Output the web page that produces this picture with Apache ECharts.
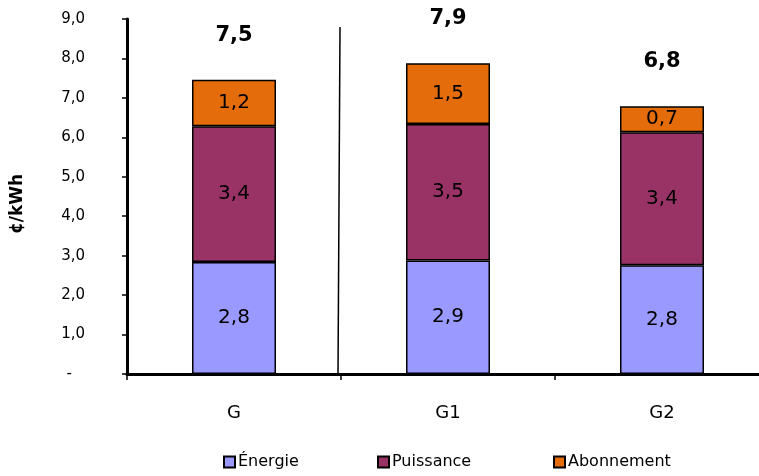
<!DOCTYPE html>
<html>
<head>
<meta charset="utf-8">
<script src="https://cdn.jsdelivr.net/npm/echarts@6/dist/echarts.min.js"></script>
<style>
  html, body { margin: 0; padding: 0; background: #fff; }
  #chart { width: 759px; height: 476px; }
</style>
</head>
<body>
<div id="chart"></div>
<script>
// Tariff categories and their cost components (¢/kWh)
const categories = ['G', 'G1', 'G2'];
const energie = [2.84, 2.88, 2.76];
const puissance = [3.44, 3.46, 3.37];
const abonnement = [1.18, 1.54, 0.66];
const yTicks = [0, 1, 2, 3, 4, 5, 6, 7, 8, 9];
const seriesNames = ['Énergie', 'Puissance', 'Abonnement'];

const totals = categories.map((_, i) => energie[i] + puissance[i] + abonnement[i]);
const fmt = v => (Math.round(v * 10 + 1e-9) / 10).toFixed(1).replace('.', ',');

const FONT = 'DejaVu Sans';
const chart = echarts.init(document.getElementById('chart'), null, { renderer: 'canvas' });

const segLabel = {
  show: true,
  position: 'inside',
  color: '#000',
  fontFamily: FONT,
  fontSize: 20,
  formatter: p => fmt(p.value)
};
const segBorder = { borderColor: '#000', borderWidth: 1.5 };

// One legend block per series so each entry sits at its own spot
const legendLefts = [223, 377, 553];
const legends = seriesNames.map((name, i) => ({
  data: [name],
  left: legendLefts[i],
  top: 454,
  padding: 0,
  icon: 'rect',
  itemWidth: 11,
  itemHeight: 11,
  itemGap: 0,
  itemStyle: { borderColor: '#000', borderWidth: 2 },
  textStyle: { fontFamily: FONT, fontSize: 16, color: '#000', padding: [0, 0, 0, -2] }
}));

chart.setOption({
  animation: false,
  backgroundColor: '#fff',
  grid: { left: 127, top: 19, width: 642, bottom: 102, outerBoundsMode: 'none' },
  legend: legends,
  xAxis: {
    type: 'category',
    data: categories,
    axisLine: { lineStyle: { color: '#000', width: 3 } },
    axisTick: { show: true, length: 6, lineStyle: { color: '#000', width: 1.5 } },
    axisLabel: { color: '#000', fontFamily: FONT, fontSize: 18, margin: 30 },
    z: 10
  },
  yAxis: {
    type: 'value',
    min: yTicks[0],
    max: yTicks[yTicks.length - 1],
    interval: 1,
    splitLine: { show: false },
    axisLine: { show: true, lineStyle: { color: '#000', width: 3 } },
    axisTick: { show: true, length: 5, lineStyle: { color: '#000', width: 1.5 } },
    axisLabel: {
      color: '#000',
      fontFamily: FONT,
      fontSize: 15,
      margin: 42,
      formatter: v => v === 0 ? '{d|-}' : fmt(v),
      rich: { d: { fontFamily: FONT, fontSize: 15, color: '#000', padding: [0, 13, 0, 0] } }
    }
  },
  series: [
    {
      name: seriesNames[0], type: 'bar', stack: 'cost', barWidth: 84,
      data: energie,
      itemStyle: Object.assign({ color: '#9999FF' }, segBorder),
      label: segLabel
    },
    {
      name: seriesNames[1], type: 'bar', stack: 'cost', barWidth: 84,
      data: puissance,
      itemStyle: Object.assign({ color: '#993366' }, segBorder),
      label: segLabel
    },
    {
      name: seriesNames[2], type: 'bar', stack: 'cost', barWidth: 84,
      data: abonnement,
      itemStyle: Object.assign({ color: '#E46C0A' }, segBorder),
      label: segLabel
    },
    {
      name: 'Total', type: 'bar', stack: 'cost', barWidth: 84,
      data: categories.map(() => 0),
      itemStyle: { color: 'transparent', borderWidth: 0 },
      label: {
        show: true,
        position: 'top',
        distance: 34,
        color: '#000',
        fontFamily: FONT,
        fontSize: 21,
        fontWeight: 'bold',
        formatter: p => fmt(totals[p.dataIndex])
      },
      tooltip: { show: false }
    }
  ]
});

// Separator between the G and G1 groups, plus the vertical unit title
const cG = chart.convertToPixel({ xAxisIndex: 0 }, categories[0]);
const cG1 = chart.convertToPixel({ xAxisIndex: 0 }, categories[1]);
const xSep = (cG + cG1) / 2;
const yTop = chart.convertToPixel({ yAxisIndex: 0 }, 8.8);
const yBot = chart.convertToPixel({ yAxisIndex: 0 }, 0);

chart.setOption({
  graphic: [
    {
      type: 'line',
      shape: { x1: xSep - 3, y1: yBot, x2: xSep - 1, y2: yTop },
      style: { stroke: '#000', lineWidth: 1.5 },
      z: 5
    },
    {
      type: 'text',
      x: 18,
      y: 204,
      rotation: Math.PI / 2,
      style: {
        text: '¢/kWh',
        font: 'bold 17px "DejaVu Sans"',
        fill: '#000',
        align: 'center',
        verticalAlign: 'middle'
      }
    }
  ]
});
</script>
</body>
</html>
